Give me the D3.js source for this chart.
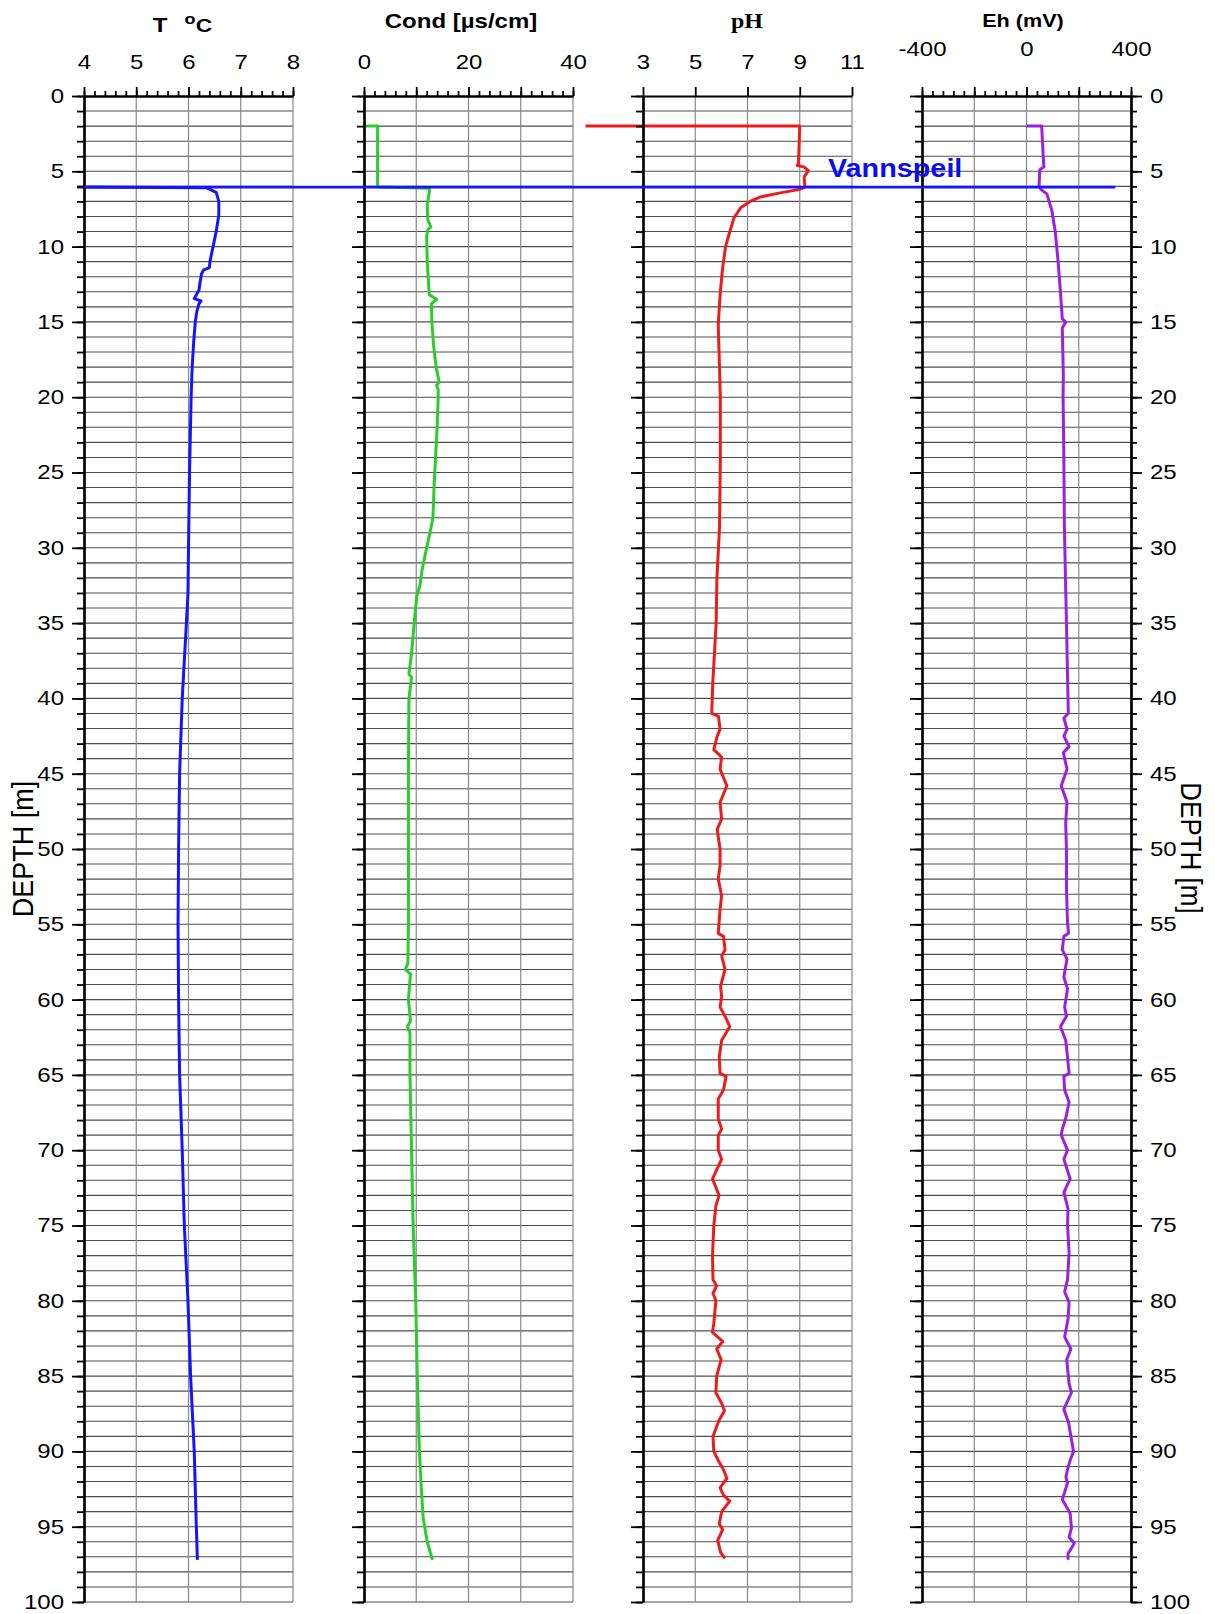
<!DOCTYPE html>
<html><head><meta charset="utf-8">
<script src="https://cdn.jsdelivr.net/npm/d3@7"></script>
<style>body{margin:0;background:#fff}</style>
</head><body>
<svg id="c" width="1215" height="1614"></svg>
<script>
// ---------- tick labels ----------
const tempTicks = [4, 5, 6, 7, 8];
const condTicks = [0, 10, 20, 30, 40];
const condLabels = [0, 20, 40];
const phTicks = [3, 5, 7, 9, 11];
const ehTicks = [-400, -200, 0, 200, 400];
const ehLabels = [-400, 0, 400];
const depthLabels = [0, 5, 10, 15, 20, 25, 30, 35, 40, 45, 50, 55, 60, 65, 70, 75, 80, 85, 90, 95, 100];

// ---------- water level ----------
const waterLevel = 6.05;
const waterLabel = "Vannspeil";

// ---------- series: temperature ----------
const tempDepth = [6.05, 6.1, 6.4, 7.0, 7.9, 9.0, 10.0, 11.0, 11.4, 11.55, 11.8, 12.4, 12.9, 13.45, 13.6, 13.8, 14.3, 15, 16.3, 18, 20, 25, 30, 33, 35, 40, 45, 50, 55, 60, 65, 70, 75, 80, 85, 90, 95, 97.2];
const tempValue = [3.87, 6.35, 6.53, 6.58, 6.58, 6.53, 6.47, 6.41, 6.40, 6.29, 6.25, 6.22, 6.20, 6.11, 6.24, 6.20, 6.16, 6.13, 6.10, 6.07, 6.05, 6.02, 6.00, 5.99, 5.96, 5.88, 5.83, 5.81, 5.80, 5.81, 5.83, 5.88, 5.92, 5.99, 6.04, 6.11, 6.15, 6.17];

// ---------- series: conductivity ----------
const condDepth = [2.0, 2.0, 6.05, 6.12, 6.4, 7.2, 8.2, 8.7, 8.9, 9.3, 11, 13.2, 13.5, 13.8, 15, 16.5, 18, 19.0, 19.2, 19.5, 20, 22, 24, 26, 28, 29.2, 30.3, 31.5, 32.5, 33.2, 35, 37, 38.4, 38.6, 40, 45, 50, 55, 57.6, 58.0, 58.3, 60, 61.4, 61.8, 62.2, 65, 66.7, 70, 75, 80, 85, 90, 92.6, 94.3, 95, 96, 97.2];
const condValue = [0, 2.6, 2.6, 12.5, 12.5, 12.1, 12.2, 12.8, 12.2, 12.0, 12.1, 12.5, 13.9, 12.9, 13.0, 13.3, 13.8, 14.4, 13.9, 14.2, 14.2, 14.0, 13.7, 13.4, 13.2, 12.5, 11.8, 11.1, 10.7, 10.1, 9.6, 9.1, 8.6, 9.1, 8.6, 8.5, 8.5, 8.5, 8.4, 7.9, 8.9, 8.5, 8.9, 8.3, 8.8, 8.8, 8.9, 9.1, 9.4, 9.9, 10.2, 10.6, 11.0, 11.3, 11.6, 12.1, 13.1];

// ---------- series: pH ----------
const phDepth = [2.0, 2.0, 4.5, 4.6, 4.72, 4.96, 5.37, 5.7, 6.05, 6.2, 6.45, 6.7, 7.0, 7.4, 8.1, 9.2, 10, 11.4, 13, 15.2, 17.5, 20, 24, 28.6, 32, 35, 39, 41.0, 41.2, 42.05, 42.5, 43.4, 43.9, 44.7, 45.8, 46.9, 48.0, 48.7, 50.0, 51.1, 52.0, 53.1, 54.0, 55.6, 55.8, 56.7, 57.1, 58.0, 59.1, 59.8, 60.5, 61.1, 61.8, 62.7, 63.8, 64.9, 65.1, 66.0, 66.6, 67.9, 68.6, 69.0, 70.0, 70.6, 71.9, 73.0, 73.7, 75.0, 77.0, 78.6, 79.0, 79.5, 80.0, 81.5, 82.1, 82.7, 83.2, 83.9, 85.0, 86.1, 86.8, 87.3, 87.9, 89.0, 90.0, 90.6, 91.2, 91.8, 92.4, 92.9, 93.3, 94.0, 94.8, 95.2, 95.9, 96.7, 97.1];
const phValue = [0.8, 9.0, 8.95, 8.9, 9.17, 9.33, 9.17, 9.18, 9.2, 9.0, 8.2, 7.5, 7.1, 6.75, 6.48, 6.29, 6.16, 6.05, 5.96, 5.88, 5.92, 5.96, 5.96, 5.93, 5.83, 5.80, 5.67, 5.63, 5.89, 5.95, 5.84, 5.71, 6.01, 5.95, 6.21, 5.95, 6.01, 5.84, 5.95, 5.95, 5.88, 6.01, 5.95, 5.88, 6.08, 6.14, 6.01, 6.14, 5.97, 6.01, 5.95, 6.14, 6.32, 6.01, 5.92, 5.95, 6.18, 6.08, 5.88, 5.88, 6.01, 5.88, 5.88, 6.01, 5.66, 5.91, 5.79, 5.71, 5.66, 5.68, 5.82, 5.68, 5.79, 5.71, 5.66, 6.05, 5.82, 5.99, 5.82, 5.79, 6.01, 6.12, 5.92, 5.68, 5.71, 5.88, 6.08, 6.21, 5.95, 6.08, 6.32, 6.01, 5.92, 6.05, 5.86, 5.97, 6.14];

// ---------- series: Eh ----------
const ehDepth = [2.0, 2.0, 4.6, 4.7, 4.9, 6.0, 6.2, 6.5, 7.6, 9.0, 10.8, 13.0, 14.8, 15.0, 15.4, 18.5, 20.0, 24.0, 28.5, 32.7, 35.0, 41.0, 41.3, 42.05, 42.5, 43.2, 43.6, 44.7, 45.8, 46.9, 48.3, 50.0, 52.7, 54.9, 55.6, 55.8, 56.7, 57.3, 58.5, 59.3, 60.5, 61.1, 61.8, 62.7, 63.8, 64.9, 65.1, 66.0, 66.8, 67.9, 68.6, 69.0, 70.0, 70.6, 71.9, 72.8, 73.9, 75.0, 76.8, 78.6, 79.4, 80.1, 81.2, 82.4, 83.2, 83.9, 85.5, 86.1, 87.2, 88.1, 90.0, 90.6, 91.2, 91.7, 92.1, 93.2, 94.1, 95.1, 95.7, 96.1, 96.8, 97.2];
const ehValue = [0, 58, 66, 67, 51, 48, 55, 78, 97, 110, 120, 130, 137, 150, 137, 141, 140, 143, 145, 150, 153, 160, 143, 155, 143, 163, 141, 155, 133, 155, 150, 153, 153, 157, 161, 143, 137, 155, 143, 157, 146, 153, 130, 150, 157, 163, 143, 146, 163, 150, 137, 133, 157, 143, 167, 143, 159, 157, 163, 157, 146, 163, 159, 146, 170, 154, 163, 172, 143, 161, 180, 167, 157, 151, 157, 137, 167, 172, 163, 183, 159, 159];

// ---------- layout ----------
const FONT = "'Liberation Sans', Arial, sans-serif";
const SX = 1.2; // horizontal stretch of the original text
const svg = d3.select("#c");
const y = d3.scaleLinear().domain([0, 100]).range([96, 1602]);
const PW = 209;

const panels = [
  { x0: 84,  domain: [4, 8],       major: tempTicks, labels: tempTicks, minorStep: 0.2, labelBase: 69, depth: tempDepth, vals: tempValue, color: "#1414ff" },
  { x0: 364, domain: [0, 40],      major: condTicks, labels: condLabels, minorStep: 2,  labelBase: 69, depth: condDepth, vals: condValue, color: "#2dcc2d" },
  { x0: 643, domain: [3, 11],      major: phTicks,   labels: phTicks,   minorStep: null, labelBase: 69, depth: phDepth,  vals: phValue,  color: "#ec1c1c" },
  { x0: 922, domain: [-400, 400],  major: ehTicks,   labels: ehLabels,  minorStep: 40, labelBase: 56, depth: ehDepth,  vals: ehValue,  color: "#9a20e2" }
];
panels.forEach(p => { p.x = d3.scaleLinear().domain(p.domain).range([p.x0, p.x0 + PW]); });

// ---------- grid ----------
const hDepths = d3.range(1, 101);
panels.forEach(p => {
  const g = svg.append("g");
  g.selectAll("line.h").data(hDepths).join("line").attr("class", "h")
    .attr("x1", p.x0).attr("x2", p.x0 + PW)
    .attr("y1", d => y(d)).attr("y2", d => y(d))
    .attr("stroke", "#4e4e4e").attr("stroke-width", 1.1);
  g.selectAll("line.v").data(p.major.slice(1)).join("line").attr("class", "v")
    .attr("x1", d => p.x(d)).attr("x2", d => p.x(d))
    .attr("y1", y(0)).attr("y2", y(100))
    .attr("stroke", "#888").attr("stroke-width", 1.2);
});

// ---------- curves ----------
panels.forEach(p => {
  const pts = p.depth.map((d, i) => [d, p.vals[i]]);
  const line = d3.line().x(d => p.x(d[1])).y(d => y(d[0]));
  svg.append("path").datum(pts).attr("d", line)
    .attr("fill", "none").attr("stroke", p.color).attr("stroke-width", 3)
    .attr("stroke-linejoin", "round").attr("stroke-linecap", "butt");
});

// ---------- axes ----------
function styleAxis(g) {
  g.attr("font-family", FONT).attr("font-size", 20);
  g.selectAll("path.domain").attr("stroke", "#000").attr("stroke-width", 2.2);
  g.selectAll(".tick line").attr("stroke", "#000").attr("stroke-width", 1.8);
  g.selectAll(".tick text").attr("fill", "#000");
}

panels.forEach((p, i) => {
  if (p.minorStep) {
    const minors = d3.range(p.domain[0], p.domain[1] + p.minorStep / 2, p.minorStep);
    svg.append("g").attr("transform", `translate(0,${y(0)})`)
      .call(d3.axisTop(p.x).tickValues(minors).tickSize(5).tickSizeOuter(0).tickFormat(""))
      .call(styleAxis);
  }
  const gt = svg.append("g").attr("transform", `translate(0,${y(0)})`)
    .call(d3.axisTop(p.x).tickValues(p.major).tickSize(9).tickSizeOuter(0)
      .tickFormat(d => p.labels.includes(d) ? String(d) : ""))
    .call(styleAxis);
  gt.selectAll(".tick text").attr("y", null).attr("dy", null)
    .attr("transform", `translate(0,${p.labelBase - y(0)}) scale(${SX},1)`);

  svg.append("g").attr("transform", `translate(${p.x0},0)`)
    .call(d3.axisLeft(y).tickValues(hDepths.concat([0])).tickSize(7).tickSizeOuter(0).tickFormat(""))
    .call(styleAxis);
  const gl = svg.append("g").attr("transform", `translate(${p.x0},0)`)
    .call(d3.axisLeft(y).tickValues(depthLabels).tickSize(12).tickSizeOuter(0)
      .tickFormat(i === 0 ? (d => String(d)) : ""))
    .call(styleAxis);
  gl.selectAll(".tick text").attr("x", null)
    .attr("transform", `translate(-20,0) scale(${SX},1)`);
});

// right depth axis
const pr = panels[3];
svg.append("g").attr("transform", `translate(${pr.x0 + PW},0)`)
  .call(d3.axisRight(y).tickValues(hDepths.concat([0])).tickSize(6).tickSizeOuter(0).tickFormat(""))
  .call(styleAxis);
const gr = svg.append("g").attr("transform", `translate(${pr.x0 + PW},0)`)
  .call(d3.axisRight(y).tickValues(depthLabels).tickSize(11).tickSizeOuter(0).tickFormat(d => String(d)))
  .call(styleAxis);
gr.selectAll(".tick text").attr("x", null)
  .attr("transform", `translate(19,0) scale(${SX},1)`);

// ---------- water level line ----------
svg.append("line")
  .attr("x1", panels[0].x(4)).attr("x2", panels[3].x(340))
  .attr("y1", y(waterLevel)).attr("y2", y(waterLevel))
  .attr("stroke", "#1414ff").attr("stroke-width", 2.6);
svg.append("text").text(waterLabel)
  .attr("transform", `translate(828,177) scale(${SX},1.1)`)
  .attr("font-family", FONT).attr("font-weight", "bold").attr("font-size", 24)
  .attr("fill", "#0c0cf0");

// ---------- titles ----------
function label(txt, x, yy, size, opts = {}) {
  return svg.append("text").text(txt)
    .attr("transform", `translate(${x},${yy}) scale(${SX},1)`)
    .attr("text-anchor", opts.anchor || "middle")
    .attr("font-family", opts.family || FONT)
    .attr("font-weight", "bold").attr("font-size", size).attr("fill", "#000");
}
label("T", 160, 32, 20);
label("o", 190, 24, 15);
label("C", 204, 32, 19);
label("Cond [µs/cm]", 461, 28, 20);
label("pH", 747, 28, 20, { family: "'Liberation Serif', 'Times New Roman', serif" });
label("Eh (mV)", 1023, 27, 18);

// depth axis titles
svg.append("text").text("DEPTH [m]")
  .attr("transform", "translate(33,849) rotate(-90) scale(1,1.1)")
  .attr("text-anchor", "middle").attr("font-family", FONT).attr("font-size", 27).attr("fill", "#000");
svg.append("text").text("DEPTH [m]")
  .attr("transform", "translate(1181,848) rotate(90) scale(1,1.1)")
  .attr("text-anchor", "middle").attr("font-family", FONT).attr("font-size", 26).attr("fill", "#000");
</script>
</body></html>
